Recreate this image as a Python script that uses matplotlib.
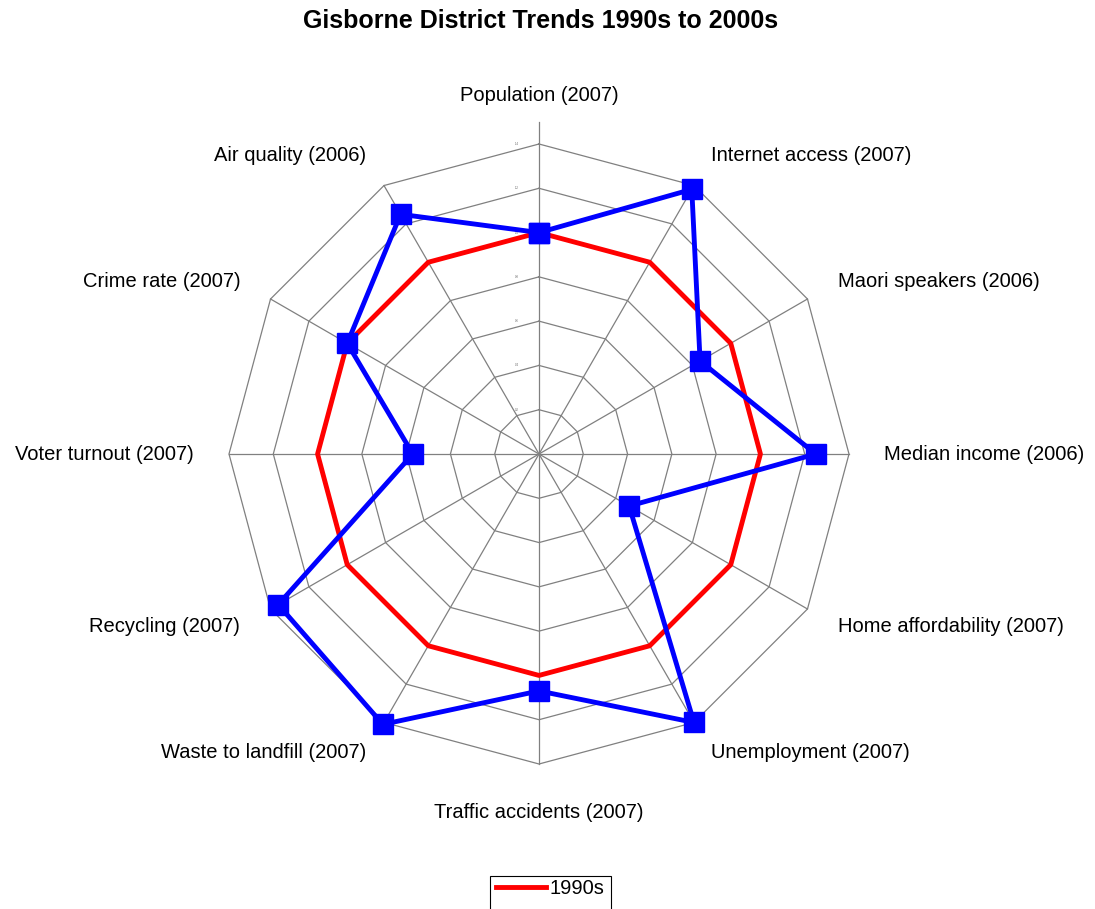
import numpy as np
import matplotlib
matplotlib.use("Agg")
import matplotlib.pyplot as plt
from matplotlib.patches import Rectangle

categories = ["Population (2007)", "Internet access (2007)", "Maori speakers (2006)",
              "Median income (2006)", "Home affordability (2007)", "Unemployment (2007)",
              "Traffic accidents (2007)", "Waste to landfill (2007)", "Recycling (2007)",
              "Voter turnout (2007)", "Crime rate (2007)", "Air quality (2006)"]
s1990 = [1.0] * 12
s2000 = [1.0, 1.38, 0.84, 1.25, 0.47, 1.40, 1.07, 1.41, 1.36, 0.57, 1.0, 1.25]
ticks = [0.2, 0.4, 0.6, 0.8, 1.0, 1.2, 1.4]

plt.rcParams['font.family'] = ['Liberation Sans', 'DejaVu Sans']

W, H = 1095, 909
fig = plt.figure(figsize=(W / 100, H / 100), dpi=100)
cx, cy, R = 539, 454, 310
ax = fig.add_axes([(cx - R) / W, (H - cy - R) / H, 2 * R / W, 2 * R / H], projection='polar')
ax.set_theta_zero_location('N')
ax.set_theta_direction(-1)
ax.set_ylim(0, 1.4)
ax.grid(False)
ax.set_xticks([])
ax.set_yticks([])
ax.spines['polar'].set_visible(False)
ax.patch.set_alpha(0)

n = len(categories)
ang = np.arange(n) * 2 * np.pi / n
angc = np.append(ang, ang[0])

gc = '#808080'
for t in ticks:
    ax.plot(angc, [t] * (n + 1), color=gc, lw=0.9, zorder=1, clip_on=False)
for i, a in enumerate(ang):
    rmax = 1.5 if i == 0 else 1.4
    ax.plot([a, a], [0, rmax], color=gc, lw=0.9, zorder=1, clip_on=False)
for t in ticks:
    ax.annotate(f"{t:.1f}", xy=(0, t), xytext=(-22, 0), textcoords='offset pixels',
                fontsize=2, color='#606060', ha='center', va='center')

l1, = ax.plot(angc, s1990 + s1990[:1], color='#ff0000', lw=3.5, zorder=3, clip_on=False, label='1990s')
l2, = ax.plot(angc, s2000 + s2000[:1], color='#0000ff', lw=3.5, marker='s', ms=14,
              zorder=4, clip_on=False, label='2000s')

fs = 14.5
for i, (a, lab) in enumerate(zip(ang, categories)):
    deg = np.degrees(a)
    if np.isclose(deg, 0) or np.isclose(deg, 180):
        ax.text(a, 1.621, lab, ha='center', va='center', fontsize=fs)
    elif deg < 180:
        ax.text(a, 1.558, lab, ha='left', va='center', fontsize=fs)
    else:
        ax.text(a, 1.558, lab, ha='right', va='center', fontsize=fs)

fig.suptitle("Gisborne District Trends 1990s to 2000s", x=541 / W, y=1 - 21 / H,
             va='center', fontsize=18, fontweight='bold')

# legend: only the first entry is visible, box runs past the bottom edge
leg = fig.legend(handles=[l1], loc='center left', bbox_to_anchor=(496 / W, (H - 889) / H),
                 fontsize=14.5, frameon=False, handlelength=2.5, handletextpad=0.15,
                 borderpad=0, borderaxespad=0)
fig.add_artist(Rectangle((490 / W, -0.02), 121 / W, (H - 876) / H + 0.02,
                         transform=fig.transFigure, fill=False, ec='black', lw=0.8))

fig.savefig("out.png", dpi=100)
